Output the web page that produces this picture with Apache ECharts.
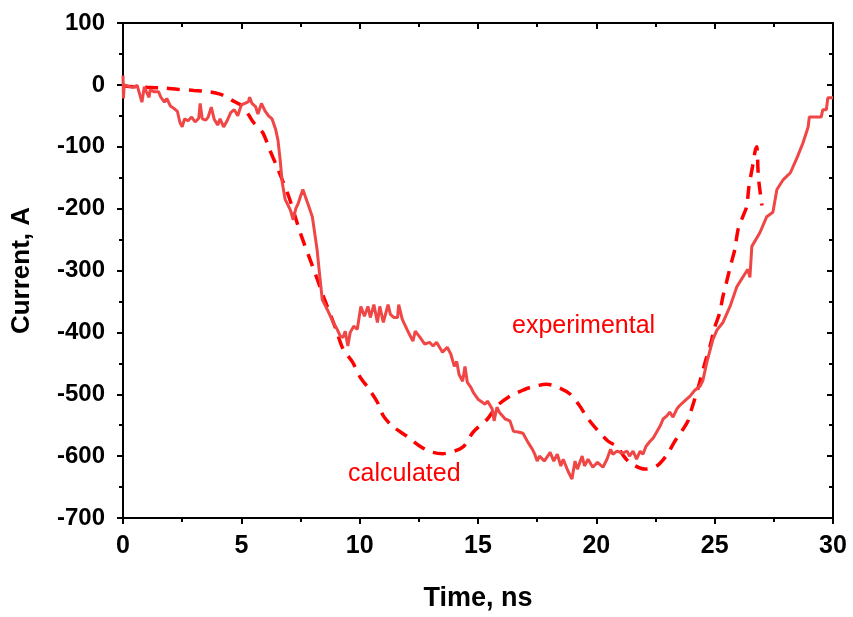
<!DOCTYPE html>
<html>
<head>
<meta charset="utf-8">
<script src="https://cdn.jsdelivr.net/npm/echarts@6/dist/echarts.min.js"></script>
<style>
  html, body { margin: 0; padding: 0; background: #fff; }
  #chart { width: 853px; height: 617px; }
</style>
</head>
<body>
<div id="chart"></div>
<script>
  // measured trace (time in ns, current in A)
  var expTime = [0, 0.02, 0.05, 0.2, 0.4, 0.6, 0.8, 0.9, 1.0, 1.1, 1.15, 1.3, 1.5, 1.6, 1.75, 1.85, 2.0, 2.15, 2.3, 2.4,
    2.5, 2.6, 2.75, 2.9, 3.05, 3.2, 3.26, 3.35, 3.5, 3.6, 3.73, 3.85, 4.0, 4.1, 4.25, 4.4, 4.55, 4.7, 4.85, 5.0,
    5.15, 5.3, 5.35, 5.45, 5.6, 5.7, 5.85, 6.0, 6.15, 6.3, 6.45, 6.55, 6.64, 6.73, 6.85, 7.07, 7.19, 7.3, 7.4, 7.5,
    7.6, 7.7, 7.83, 8.0, 8.2, 8.33, 8.42, 8.63, 8.88, 9.05, 9.18, 9.3, 9.39, 9.5, 9.6, 9.75, 9.9, 10.05, 10.2, 10.35,
    10.45, 10.6, 10.75, 10.85, 11.0, 11.2, 11.3, 11.45, 11.6, 11.65, 11.8, 12.0, 12.1, 12.25, 12.35, 12.55, 12.75, 12.95, 13.1, 13.25,
    13.5, 13.7, 13.85, 14.0, 14.1, 14.2, 14.35, 14.45, 14.55, 14.7, 14.8, 15.0, 15.3, 15.4, 15.6, 15.68, 15.8, 15.9, 16.15, 16.35,
    16.5, 16.7, 16.9, 17.1, 17.3, 17.4, 17.5, 17.6, 17.8, 18.05, 18.2, 18.35, 18.5, 18.6, 18.8, 18.97, 19.1, 19.2, 19.4, 19.5,
    19.65, 19.85, 20.05, 20.28, 20.45, 20.6, 20.7, 20.87, 21.1, 21.3, 21.4, 21.55, 21.7, 21.85, 21.97, 22.1, 22.27, 22.4, 22.55, 22.7,
    22.82, 22.98, 23.1, 23.24, 23.4, 23.5, 23.7, 23.96, 24.15, 24.38, 24.5, 24.67, 24.93, 25.1, 25.35, 25.65, 25.94, 26.2, 26.4, 26.49,
    26.57, 26.91, 27.2, 27.46, 27.63, 27.9, 28.2, 28.5, 28.73, 28.95, 29.0, 29.5, 29.57, 29.72, 29.78, 30];
  var expCurrent = [15, -22, 0, -2, -4, -1, -28, -3, -12, -20, -8, -11, -11, -20, -28, -22, -34, -38, -43, -60,
    -68, -55, -58, -52, -60, -54, -30, -55, -57, -52, -36, -55, -65, -55, -68, -58, -45, -40, -50, -32,
    -30, -27, -20, -30, -35, -47, -30, -42, -50, -55, -72, -90, -121, -158, -185, -202, -218, -200, -192, -180,
    -169, -180, -194, -213, -266, -315, -347, -363, -384, -395, -406, -408, -398, -422, -400, -390, -395, -358, -374, -358,
    -376, -355, -384, -358, -384, -355, -371, -376, -376, -355, -379, -395, -403, -414, -398, -408, -419, -416, -422, -416,
    -432, -424, -435, -455, -447, -468, -479, -455, -481, -489, -497, -508, -516, -511, -524, -543, -521, -529, -540, -543,
    -560, -561, -563, -577, -589, -597, -608, -600, -608, -594, -608, -597, -616, -605, -624, -637, -608, -621, -600, -616,
    -605, -618, -610, -618, -605, -589, -597, -592, -595, -592, -600, -592, -605, -592, -597, -584, -576, -571, -561, -551,
    -540, -535, -529, -537, -524, -519, -512, -503, -494, -487, -478, -448, -411, -396, -384, -358, -326, -310, -298, -311,
    -261, -239, -213, -206, -169, -153, -142, -116, -94, -68, -52, -52, -40, -40, -21, -21];

  // calculated trace
  var calcTime = [0, 0.5, 1.0, 1.7, 2.3, 3.0, 3.6, 4.1, 4.4, 4.7, 5.0, 5.3, 5.5, 5.9, 6.2, 6.5, 7.0, 7.5, 8.0, 8.5,
    9.0, 9.3, 9.7, 10.0, 10.4, 10.75, 11.0, 11.4, 12.0, 12.55, 13.0, 13.5, 14.0, 14.4, 14.8, 15.4, 15.8, 16.35, 16.8, 17.2,
    17.9, 18.4, 18.9, 19.3, 19.6, 20.0, 20.5, 20.9, 21.1, 21.4, 22.05, 22.55, 23.0, 23.3, 23.6, 23.85, 24.0, 24.3, 24.6, 24.8,
    25.0, 25.2, 25.35, 25.5, 25.7, 25.85, 26.0, 26.2, 26.35, 26.45, 26.6, 26.72, 26.78, 26.85, 27.0];
  var calcCurrent = [-2, -3, -4, -5, -7, -9, -11, -15, -20, -27, -33, -48, -60, -77, -105, -132, -180, -240, -292, -345,
    -395, -427, -448, -471, -492, -513, -535, -552, -568, -584, -593, -596, -592, -584, -561, -540, -519, -503, -495, -489,
    -484, -489, -500, -519, -537, -556, -576, -585, -597, -610, -621, -616, -597, -577, -560, -545, -527, -490, -448, -423,
    -392, -370, -342, -319, -288, -266, -232, -212, -197, -164, -132, -105, -100, -150, -195];

  var xTicks = [0, 5, 10, 15, 20, 25, 30];

  function pairs(xs, ys) {
    return xs.map(function (x, i) { return [x, ys[i]]; });
  }

  var myChart = echarts.init(document.getElementById('chart'));

  var font = 'Liberation Sans, Arial, sans-serif';
  var lineStyle = { color: '#000', width: 2 };

  var options = {
    animation: false,
    grid: { left: 123, top: 23, right: 20, bottom: 98 },
    xAxis: [
      {
        type: 'value', min: 0, max: 30, interval: 5,
        name: 'Time, ns', nameLocation: 'middle', nameGap: 67,
        nameTextStyle: { color: '#000', fontFamily: font, fontWeight: 'bold', fontSize: 27 },
        axisLine: { show: true, onZero: false, lineStyle: lineStyle },
        axisTick: { show: true, length: 6, lineStyle: lineStyle },
        minorTick: { show: true, splitNumber: 2, length: 4, lineStyle: lineStyle },
        axisLabel: {
          margin: 16, color: '#000', fontFamily: font, fontWeight: 'bold', fontSize: 25,
          formatter: function (v) { return xTicks.indexOf(v) >= 0 ? String(v) : ''; }
        },
        splitLine: { show: false }
      },
      {
        type: 'value', position: 'top', min: 0, max: 30, interval: 5,
        axisLine: { show: true, onZero: false, lineStyle: lineStyle },
        axisTick: { show: true, inside: true, length: 6, lineStyle: lineStyle },
        minorTick: { show: true, splitNumber: 2, length: 4, lineStyle: lineStyle },
        axisLabel: { show: false },
        splitLine: { show: false }
      }
    ],
    yAxis: [
      {
        type: 'value', min: -700, max: 100, interval: 100,
        name: 'Current, A', nameLocation: 'middle', nameGap: 88,
        nameTextStyle: { color: '#000', fontFamily: font, fontWeight: 'bold', fontSize: 26 },
        axisLine: { show: true, onZero: false, lineStyle: lineStyle },
        axisTick: { show: true, length: 6, lineStyle: lineStyle },
        minorTick: { show: true, splitNumber: 2, length: 4, lineStyle: lineStyle },
        axisLabel: { margin: 18, color: '#000', fontFamily: font, fontWeight: 'bold', fontSize: 24 },
        splitLine: { show: false }
      },
      {
        type: 'value', position: 'right', min: -700, max: 100, interval: 100,
        axisLine: { show: true, onZero: false, lineStyle: lineStyle },
        axisTick: { show: true, inside: true, length: 6, lineStyle: lineStyle },
        minorTick: { show: true, splitNumber: 2, length: 4, lineStyle: lineStyle },
        axisLabel: { show: false },
        splitLine: { show: false }
      }
    ],
    series: [
      {
        name: 'calculated', type: 'line', showSymbol: false, smooth: 0.3,
        data: pairs(calcTime, calcCurrent),
        lineStyle: { color: '#ff0000', width: 3.5, type: [13, 9] },
        z: 2
      },
      {
        name: 'experimental', type: 'line', showSymbol: false,
        data: pairs(expTime, expCurrent),
        lineStyle: { color: '#f04646', width: 3 },
        z: 3
      }
    ],
    graphic: [
      { type: 'text', left: 512, top: 314, style: { text: 'experimental', fill: '#ff0000', font: '25px "Liberation Sans", Arial' } },
      { type: 'text', left: 348, top: 462, style: { text: 'calculated', fill: '#ff0000', font: '25px "Liberation Sans", Arial' } }
    ]
  };

  myChart.setOption(options);
</script>
</body>
</html>
